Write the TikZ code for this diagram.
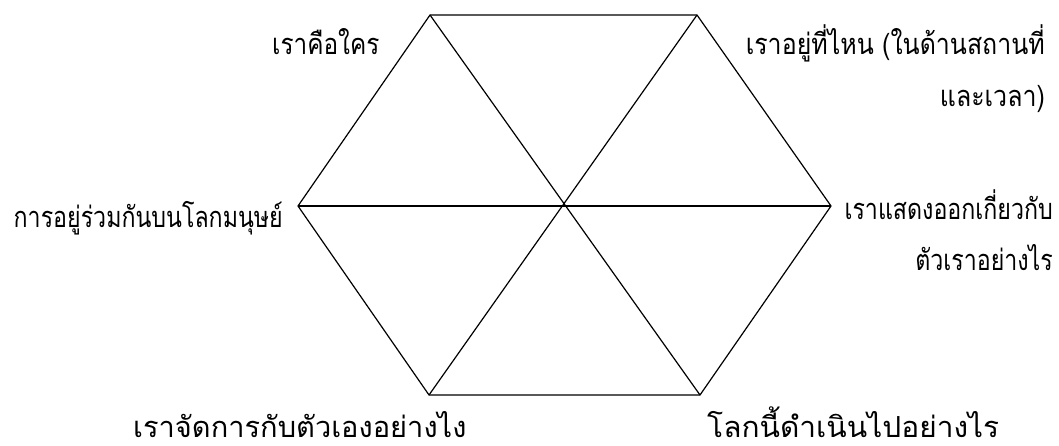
\documentclass[tikz,border=0pt]{standalone}
\usepackage{graphicx}
\usepackage{fontspec}
\newfontfamily\thaifont[Script=Thai]{Loma}
\newcommand{\sqz}[2]{\scalebox{#1}[1]{#2}}
\begin{document}
\begin{tikzpicture}[x=1pt,y=-1pt,
  edge/.style={line width=1.2pt,black,line join=miter},
  lbl/.style={font=\thaifont\fontsize{29}{35}\selectfont,inner sep=0pt}]
\useasboundingbox (0,0) rectangle (1059,446);
\coordinate (tl) at (430,15);
\coordinate (tr) at (697,15);
\coordinate (r) at (831,206);
\coordinate (br) at (700,395);
\coordinate (bl) at (429,395);
\coordinate (l) at (298,206);
\draw[edge] (tl) -- (tr) -- (r) -- (br) -- (bl) -- (l) -- cycle;
\draw[edge] (tl) -- (br);
\draw[edge] (tr) -- (bl);
\draw[edge] (l) -- (r);
\node[lbl,anchor=base west] (a) at (272,55) {\sqz{0.84}{เราคือใคร}};
\node[lbl,anchor=base east] (b1) at (1045,55) {\sqz{0.86}{เราอยู่ที่ไหน (ในด้านสถานที่}};
\node[lbl,anchor=base east] (b2) at (1045,107) {\sqz{0.86}{และเวลา)}};
\node[lbl,anchor=base east] (c) at (283,228) {\sqz{0.80}{การอยู่ร่วมกันบนโลกมนุษย์}};
\node[lbl,anchor=base east] (d1) at (1053,220) {\sqz{0.80}{เราแสดงออกเกี่ยวกับ}};
\node[lbl,anchor=base east] (d2) at (1053,270) {\sqz{0.80}{ตัวเราอย่างไร}};
\node[lbl,anchor=base west,text depth=0pt] (e) at (133,437) {\sqz{1.0}{เราจัดการกับตัวเองอย่างไง}};
\node[lbl,anchor=base west,text depth=0pt] (f) at (707,437) {\sqz{1.03}{โลกนี้ดำเนินไปอย่างไร}};
\end{tikzpicture}
\end{document}
